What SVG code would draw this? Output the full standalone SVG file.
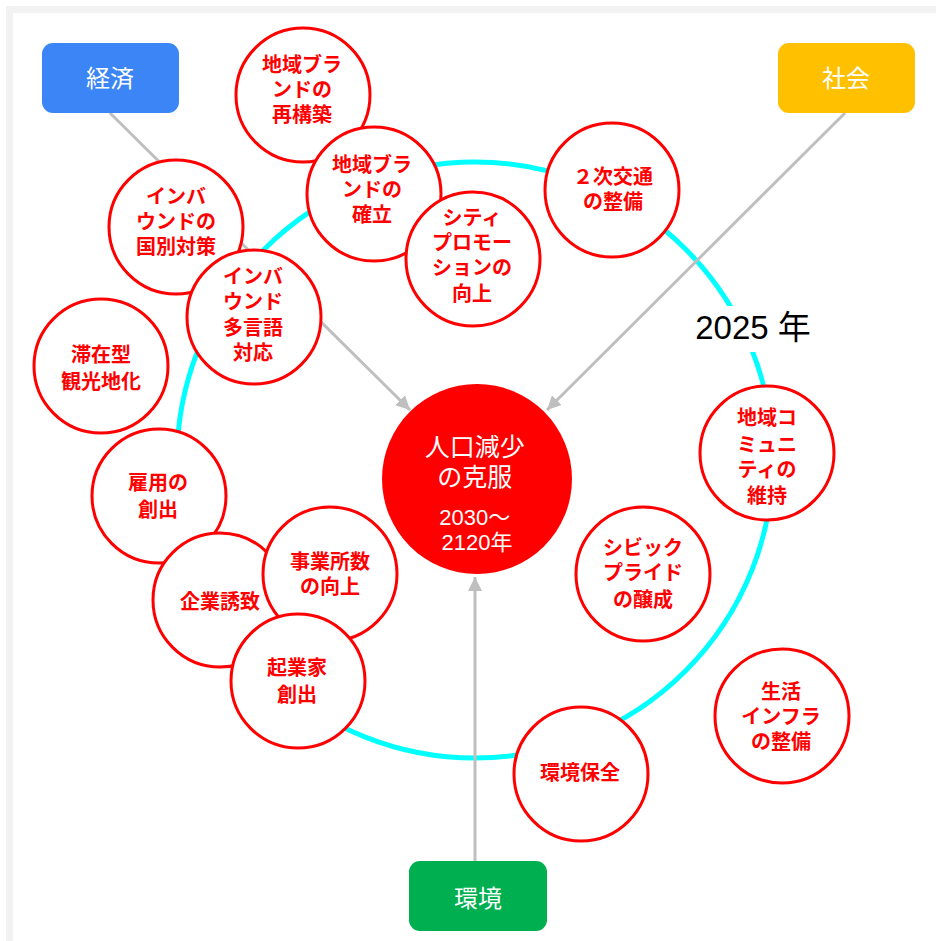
<svg xmlns="http://www.w3.org/2000/svg" width="936" height="941" viewBox="0 0 936 941">
<defs>
<style>
.c{fill:#fff;stroke:#ff0000;stroke-width:3}
.ct{fill:#ff0000;font-family:"Liberation Sans","Noto Sans CJK JP",sans-serif;font-size:20px;font-weight:bold;text-anchor:middle}
.bt{fill:#fff;font-family:"Liberation Sans","Noto Sans CJK JP",sans-serif;font-size:24px;text-anchor:middle}
.ln{stroke:#bfbfbf;stroke-width:3;fill:none}
.f{font-family:"Liberation Sans","Noto Sans CJK JP",sans-serif}
</style>
<marker id="ah" markerUnits="userSpaceOnUse" markerWidth="16" markerHeight="14" refX="14" refY="7" orient="auto">
<path d="M0,0 L14,7 L0,14 Z" fill="#bfbfbf"/>
</marker>
</defs>
<rect x="0" y="0" width="936" height="941" fill="#fff"/>
<rect x="6" y="6" width="930" height="935" fill="#f2f2f2"/>
<rect x="13" y="13" width="923" height="928" fill="#fff"/>
<g id="ring">
<circle cx="475" cy="460" r="298" fill="none" stroke="#00ffff" stroke-width="5"/>
<rect x="688" y="306" width="130" height="46" fill="#fff"/>
<text class="f" x="753" y="339" font-size="33" fill="#000" text-anchor="middle">2025 年</text>
</g>
<g id="connectors">
<line class="ln" x1="110" y1="113" x2="410" y2="410" marker-end="url(#ah)"/>
<line class="ln" x1="845" y1="113" x2="547" y2="410" marker-end="url(#ah)"/>
<line class="ln" x1="475" y1="861" x2="475" y2="577" marker-end="url(#ah)"/>
</g>
<g id="keizai">
<rect x="42" y="43" width="137" height="70" rx="11" fill="#3c85f6"/>
<text class="bt" x="110" y="87">経済</text>
</g>
<g id="shakai">
<rect x="778" y="43" width="137" height="70" rx="11" fill="#ffc000"/>
<text class="bt" x="846" y="87">社会</text>
</g>
<g id="kankyou">
<rect x="409" y="861" width="138" height="70" rx="11" fill="#00b050"/>
<text class="bt" x="478" y="907">環境</text>
</g>
<g id="center">
<circle cx="477" cy="479" r="95" fill="#ff0000"/>
<text class="f" fill="#fff" text-anchor="middle">
<tspan x="477" y="456" font-size="25">人口減少</tspan>
<tspan x="477" y="486" font-size="25">の克服</tspan>
<tspan x="477" y="525" font-size="22">2030～</tspan>
<tspan x="477" y="550" font-size="22">2120年</tspan>
</text>
</g>
<g id="brand-rebuild">
<circle class="c" cx="303" cy="95" r="67"/>
<text class="ct"><tspan x="302" y="72">地域ブラ</tspan><tspan x="302" y="97">ンドの</tspan><tspan x="302" y="122">再構築</tspan></text>
</g>
<g id="brand-establish">
<circle class="c" cx="374" cy="194" r="67"/>
<text class="ct"><tspan x="372" y="172">地域ブラ</tspan><tspan x="372" y="197">ンドの</tspan><tspan x="372" y="222">確立</tspan></text>
</g>
<g id="city-promotion">
<circle class="c" cx="473" cy="259" r="67"/>
<text class="ct"><tspan x="472" y="225">シティ</tspan><tspan x="472" y="250">プロモー</tspan><tspan x="472" y="275">ションの</tspan><tspan x="472" y="301">向上</tspan></text>
</g>
<g id="secondary-transport">
<circle class="c" cx="612" cy="190" r="67"/>
<text class="ct"><tspan x="613" y="184">２次交通</tspan><tspan x="613" y="209">の整備</tspan></text>
</g>
<g id="inbound-country">
<circle class="c" cx="176" cy="227" r="67"/>
<text class="ct"><tspan x="176" y="204">インバ</tspan><tspan x="176" y="229">ウンドの</tspan><tspan x="176" y="254">国別対策</tspan></text>
</g>
<g id="inbound-multilingual">
<circle class="c" cx="254" cy="317" r="67"/>
<text class="ct"><tspan x="253" y="284">インバ</tspan><tspan x="253" y="309">ウンド</tspan><tspan x="253" y="335">多言語</tspan><tspan x="253" y="360">対応</tspan></text>
</g>
<g id="stay-tourism">
<circle class="c" cx="101" cy="366" r="67"/>
<text class="ct"><tspan x="101" y="362">滞在型</tspan><tspan x="101" y="389">観光地化</tspan></text>
</g>
<g id="employment">
<circle class="c" cx="159" cy="496" r="67"/>
<text class="ct"><tspan x="158" y="490">雇用の</tspan><tspan x="158" y="517">創出</tspan></text>
</g>
<g id="company-attraction">
<circle class="c" cx="220" cy="600" r="67"/>
<text class="ct"><tspan x="220" y="609">企業誘致</tspan></text>
</g>
<g id="offices">
<circle class="c" cx="330" cy="574" r="67"/>
<text class="ct"><tspan x="330" y="569">事業所数</tspan><tspan x="330" y="594">の向上</tspan></text>
</g>
<g id="entrepreneurs">
<circle class="c" cx="298" cy="681" r="67"/>
<text class="ct"><tspan x="297" y="675">起業家</tspan><tspan x="297" y="702">創出</tspan></text>
</g>
<g id="community">
<circle class="c" cx="767" cy="453" r="67"/>
<text class="ct"><tspan x="767" y="425">地域コ</tspan><tspan x="767" y="452">ミュニ</tspan><tspan x="767" y="477">ティの</tspan><tspan x="767" y="503">維持</tspan></text>
</g>
<g id="civic-pride">
<circle class="c" cx="643" cy="574" r="67"/>
<text class="ct"><tspan x="643" y="555">シビック</tspan><tspan x="643" y="580">プライド</tspan><tspan x="643" y="607">の醸成</tspan></text>
</g>
<g id="infrastructure">
<circle class="c" cx="782" cy="716" r="67"/>
<text class="ct"><tspan x="781" y="699">生活</tspan><tspan x="781" y="724">インフラ</tspan><tspan x="781" y="749">の整備</tspan></text>
</g>
<g id="environment-conservation">
<circle class="c" cx="581" cy="774" r="67"/>
<text class="ct"><tspan x="580" y="780">環境保全</tspan></text>
</g>
</svg>
